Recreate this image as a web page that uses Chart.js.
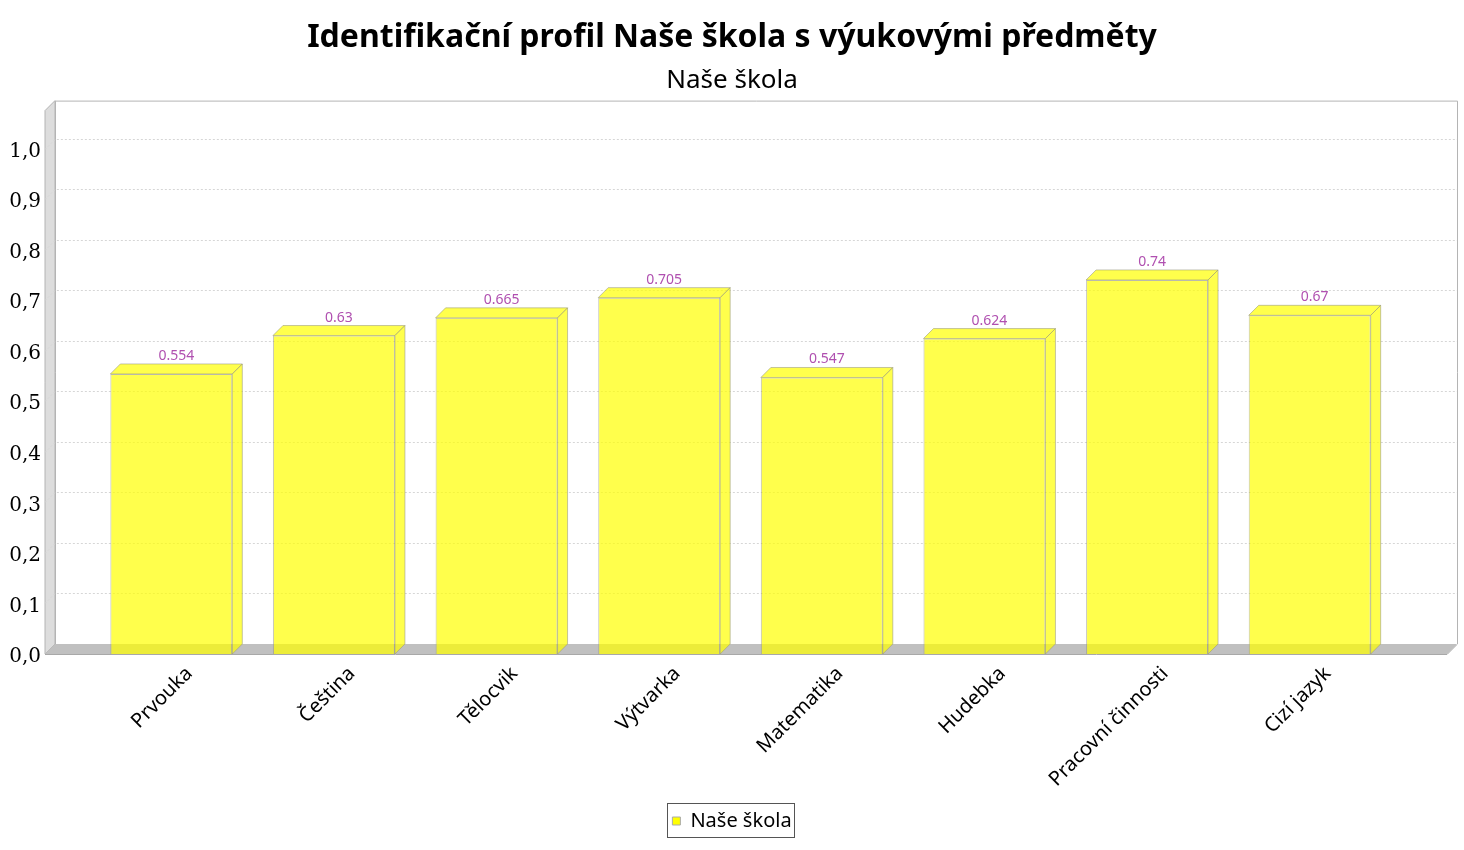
<!DOCTYPE html>
<html>
<head>
<meta charset="utf-8">
<script src="https://cdn.jsdelivr.net/npm/chart.js@4"></script>
<style>
  html, body { margin: 0; padding: 0; background: #fff; }
  #wrap { width: 1464px; height: 850px; }
</style>
</head>
<body>
<div id="wrap"><canvas id="chart" width="1464" height="850"></canvas></div>
<script>
const categories = ['Prvouka', 'Čeština', 'Tělocvik', 'Výtvarka', 'Matematika', 'Hudebka', 'Pracovní činnosti', 'Cizí jazyk'];
const seriesName = 'Naše škola';
const values = [0.554, 0.63, 0.665, 0.705, 0.547, 0.624, 0.74, 0.67];
const yTicks = [0, 0.1, 0.2, 0.3, 0.4, 0.5, 0.6, 0.7, 0.8, 0.9, 1.0];

const DEPTH = 10;
const WALL_LEFT_GAP = 45;
const WALL_RIGHT_GAP = 66;
const barFill = 'rgba(255, 255, 0, 0.7)';
const barEdge = 'rgba(150, 150, 130, 0.55)';
const sansFont = '"Noto Sans", "Open Sans", sans-serif';

const threeD = {
    id: 'threeD',
    beforeDatasetsDraw(chart) {
        const { ctx, chartArea: a, scales: { y } } = chart;
        const left = a.left - WALL_LEFT_GAP;
        const right = a.right + WALL_RIGHT_GAP;
        const top = a.top;
        const bottom = y.getPixelForValue(0);
        ctx.save();

        // back wall outline
        ctx.strokeStyle = '#b4b4b4';
        ctx.lineWidth = 1;
        ctx.beginPath();
        ctx.moveTo(left + DEPTH + 0.5, bottom - DEPTH);
        ctx.lineTo(left + DEPTH + 0.5, top - DEPTH + 0.5);
        ctx.lineTo(right + 0.5, top - DEPTH + 0.5);
        ctx.lineTo(right + 0.5, bottom - DEPTH);
        ctx.stroke();

        // left wall
        ctx.fillStyle = '#dddddd';
        ctx.beginPath();
        ctx.moveTo(left, bottom);
        ctx.lineTo(left, top);
        ctx.lineTo(left + DEPTH, top - DEPTH);
        ctx.lineTo(left + DEPTH, bottom - DEPTH);
        ctx.closePath();
        ctx.fill();
        ctx.strokeStyle = '#b4b4b4';
        ctx.stroke();

        // floor
        ctx.fillStyle = '#c0c0c0';
        ctx.beginPath();
        ctx.moveTo(left, bottom);
        ctx.lineTo(left + DEPTH, bottom - DEPTH);
        ctx.lineTo(right, bottom - DEPTH);
        ctx.lineTo(right - DEPTH, bottom);
        ctx.closePath();
        ctx.fill();
        ctx.strokeStyle = '#a8a8a8';
        ctx.beginPath();
        ctx.moveTo(left, bottom + 0.5);
        ctx.lineTo(right - DEPTH, bottom + 0.5);
        ctx.lineTo(right, bottom - DEPTH + 0.5);
        ctx.stroke();

        // grid lines on the back wall
        ctx.strokeStyle = '#d6d6d6';
        ctx.setLineDash([2, 2]);
        yTicks.forEach(function (v) {
            if (v === 0) return;
            const py = Math.round(y.getPixelForValue(v)) + 0.5;
            ctx.beginPath();
            ctx.moveTo(left, py);
            ctx.lineTo(left + DEPTH, py - DEPTH);
            ctx.lineTo(right, py - DEPTH);
            ctx.stroke();
        });
        ctx.restore();
    },
    afterDatasetsDraw(chart) {
        const { ctx } = chart;
        const meta = chart.getDatasetMeta(0);
        ctx.save();
        meta.data.forEach(function (bar, i) {
            const l = bar.x - bar.width / 2;
            const r = bar.x + bar.width / 2;
            const t = bar.y;
            const b = bar.base;
            ctx.fillStyle = barFill;
            ctx.strokeStyle = barEdge;
            ctx.lineWidth = 1;
            // top face
            ctx.beginPath();
            ctx.moveTo(l, t);
            ctx.lineTo(l + DEPTH, t - DEPTH);
            ctx.lineTo(r + DEPTH, t - DEPTH);
            ctx.lineTo(r, t);
            ctx.closePath();
            ctx.fill();
            ctx.stroke();
            // side face
            ctx.beginPath();
            ctx.moveTo(r, t);
            ctx.lineTo(r + DEPTH, t - DEPTH);
            ctx.lineTo(r + DEPTH, b - DEPTH);
            ctx.lineTo(r, b);
            ctx.closePath();
            ctx.fill();
            ctx.stroke();
            // value label
            ctx.fillStyle = '#b050b0';
            ctx.font = '14px ' + sansFont;
            ctx.textAlign = 'center';
            ctx.textBaseline = 'alphabetic';
            ctx.fillText(String(values[i]), bar.x + DEPTH / 2, t - DEPTH - 4);
        });
        ctx.restore();
    },
    afterDraw(chart) {
        const legend = chart.legend;
        if (!legend || !legend.legendHitBoxes.length) return;
        const hb = legend.legendHitBoxes[0];
        const { ctx } = chart;
        ctx.save();
        ctx.strokeStyle = '#555555';
        ctx.lineWidth = 1;
        ctx.strokeRect(Math.round(hb.left) - 4.5, Math.round(hb.top) - 7.5, Math.round(hb.width) + 8, Math.round(hb.height) + 14);
        ctx.restore();
    }
};

new Chart(document.getElementById('chart'), {
    type: 'bar',
    data: {
        labels: categories,
        datasets: [{
            label: seriesName,
            data: values,
            backgroundColor: barFill,
            borderColor: barEdge,
            borderWidth: 1,
            categoryPercentage: 1,
            barPercentage: 0.75,
        }],
    },
    options: {
        responsive: false,
        animation: false,
        devicePixelRatio: 1,
        layout: { padding: { top: 0, left: 0, right: 0, bottom: 9 } },
        plugins: {
            title: {
                display: true,
                text: 'Identifikační profil Naše škola s výukovými předměty',
                color: '#000',
                font: { family: sansFont, size: 32, weight: 'bold' },
                padding: { top: 19, bottom: 8 },
            },
            subtitle: {
                display: true,
                text: seriesName,
                color: '#000',
                font: { family: sansFont, size: 26, weight: 'normal' },
                padding: { top: 0, bottom: 14 },
            },
            legend: {
                position: 'bottom',
                labels: {
                    boxWidth: 8,
                    boxHeight: 8,
                    color: '#000',
                    font: { family: sansFont, size: 20 },
                    padding: 8,
                    generateLabels(chart) {
                        return [{
                            text: seriesName,
                            fillStyle: '#ffff00',
                            strokeStyle: '#aaaaaa',
                            lineWidth: 1,
                            datasetIndex: 0,
                        }];
                    },
                },
            },
            tooltip: { enabled: false },
        },
        scales: {
            x: {
                offset: true,
                grid: { display: false, drawTicks: false },
                border: { display: false },
                ticks: {
                    color: '#000',
                    font: { family: sansFont, size: 20 },
                    maxRotation: 45,
                    minRotation: 45,
                    autoSkip: false,
                    padding: 8,
                    labelOffset: 18,
                },
                afterFit(scale) { scale.height = 149; },
            },
            y: {
                min: 0,
                max: 1.075,
                grid: { display: false, drawTicks: false },
                border: { display: false },
                ticks: {
                    stepSize: 0.1,
                    color: '#000',
                    padding: 49,
                    labelOffset: 3,
                    font: { family: '"DejaVu Serif", serif', size: 20 },
                    callback: (v) => v.toFixed(1).replace('.', ','),
                },
                afterBuildTicks(scale) {
                    scale.ticks = yTicks.map((v) => ({ value: v }));
                },
                afterFit(scale) { scale.width = 90; },
            },
            // empty space on the right for the 3D depth of the plot
            yRight: {
                type: 'linear',
                position: 'right',
                display: true,
                grid: { display: false, drawTicks: false },
                border: { display: false },
                ticks: { display: false },
                afterFit(scale) { scale.width = 73; },
            },
        },
    },
    plugins: [threeD],
});
</script>
</body>
</html>
